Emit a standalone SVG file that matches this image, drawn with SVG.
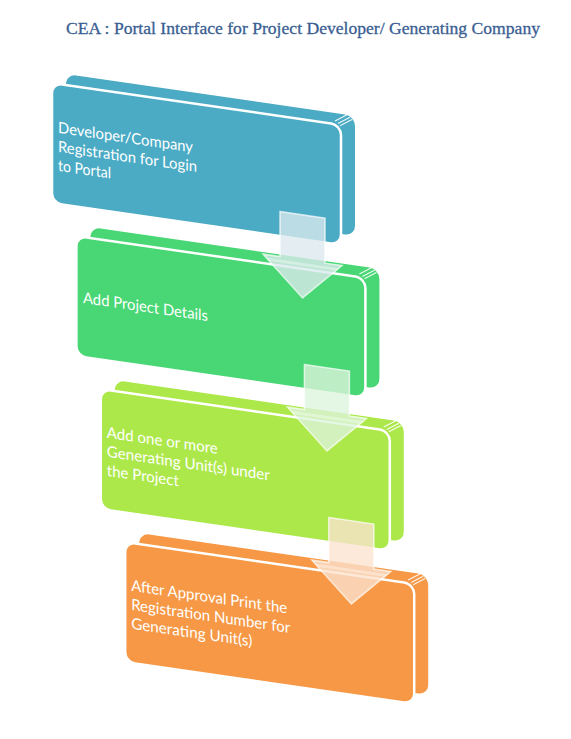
<svg xmlns="http://www.w3.org/2000/svg" width="571" height="739" viewBox="0 0 571 739">
<style>
.title{font-family:"Liberation Serif","DejaVu Serif",serif;font-size:17.5px;fill:#3a5e92;stroke:#3a5e92;stroke-width:0.3}
.lbl{font-family:Lato,"Open Sans","Liberation Sans",sans-serif;font-size:15.5px;fill:#ffffff}
.front{stroke:#ffffff;stroke-width:2.5}
.bev{stroke:#ffffff;stroke-width:1;opacity:0.9}
.arr{stroke:#ffffff;stroke-opacity:0.7;stroke-width:1.5;fill-opacity:0.78}
.band{fill:#ffffff;fill-opacity:0.35}
</style>
<rect width="571" height="739" fill="#ffffff"/>
<text class="title" x="66" y="34" textLength="474" lengthAdjust="spacingAndGlyphs">CEA : Portal Interface for Project Developer/ Generating Company</text>

<g id="node1" transform="matrix(1 0.145 0 1 52 83)">
  <rect x="14" y="-11" width="289" height="120" rx="10" fill="#4babc5"/>
  <rect class="front" x="0" y="0" width="289" height="120" rx="10" fill="#4babc5"/>
  <path class="bev" d="M283 -3 L295 -11 M286 -1 L298 -9 M288 1 L300 -7"/>
  <text class="lbl" x="6" y="49" textLength="135" lengthAdjust="spacingAndGlyphs">Developer/Company</text>
  <text class="lbl" x="6" y="68" textLength="139" lengthAdjust="spacingAndGlyphs">Registration for Login</text>
  <text class="lbl" x="6" y="87" textLength="53" lengthAdjust="spacingAndGlyphs">to Portal</text>
</g>

<g id="node2" transform="matrix(1 0.145 0 1 76.4 236)">
  <rect x="14" y="-11" width="289" height="120" rx="10" fill="#48d774"/>
  <rect class="front" x="0" y="0" width="289" height="120" rx="10" fill="#48d774"/>
  <path class="bev" d="M283 -3 L295 -11 M286 -1 L298 -9 M288 1 L300 -7"/>
  <text class="lbl" x="6.6" y="66" textLength="125" lengthAdjust="spacingAndGlyphs">Add Project Details</text>
</g>

<g id="node3" transform="matrix(1 0.145 0 1 100.8 389)">
  <rect x="14" y="-11" width="289" height="120" rx="10" fill="#ade84a"/>
  <rect class="front" x="0" y="0" width="289" height="120" rx="10" fill="#ade84a"/>
  <path class="bev" d="M283 -3 L295 -11 M286 -1 L298 -9 M288 1 L300 -7"/>
  <text class="lbl" x="6" y="48" textLength="111" lengthAdjust="spacingAndGlyphs">Add one or more</text>
  <text class="lbl" x="6" y="67" textLength="163" lengthAdjust="spacingAndGlyphs">Generating Unit(s) under</text>
  <text class="lbl" x="6" y="86" textLength="72" lengthAdjust="spacingAndGlyphs">the Project</text>
</g>

<g id="node4" transform="matrix(1 0.145 0 1 125.2 542)">
  <rect x="14" y="-11" width="289" height="120" rx="10" fill="#f69845"/>
  <rect class="front" x="0" y="0" width="289" height="120" rx="10" fill="#f69845"/>
  <path class="bev" d="M283 -3 L295 -11 M286 -1 L298 -9 M288 1 L300 -7"/>
  <text class="lbl" x="6" y="48" textLength="156" lengthAdjust="spacingAndGlyphs">After Approval Print the</text>
  <text class="lbl" x="6" y="67" textLength="159" lengthAdjust="spacingAndGlyphs">Registration Number for</text>
  <text class="lbl" x="6" y="86" textLength="121" lengthAdjust="spacingAndGlyphs">Generating Unit(s)</text>
</g>

<g id="connectors" transform="matrix(1 0.145 0 1 0 0)">
  <g id="arrow1">
    <polygon class="arr" fill="#dce9ee" points="280,171 325,171 325,216 342,216 302.5,254 263,216 280,216"/>
    <polygon class="band" points="266,219 339,219 336,222 269,222"/>
  </g>
  <g id="arrow2" transform="translate(24.4 149.46)">
    <polygon class="arr" fill="#dcf4dc" points="280,171 325,171 325,216 342,216 302.5,254 263,216 280,216"/>
    <polygon class="band" points="266,219 339,219 336,222 269,222"/>
  </g>
  <g id="arrow3" transform="translate(48.8 298.92)">
    <polygon class="arr" fill="#fbe3cf" points="280,171 325,171 325,216 342,216 302.5,254 263,216 280,216"/>
    <polygon class="band" points="266,219 339,219 336,222 269,222"/>
  </g>
</g>
</svg>
